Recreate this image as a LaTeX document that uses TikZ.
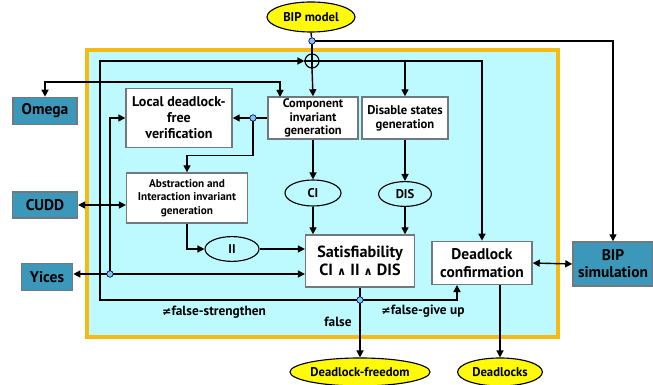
\documentclass[tikz,border=0pt]{standalone}
\usepackage{fontspec}
\setmainfont{PT Sans}
\newfontfamily\glyphfont{DejaVu Sans}
\usetikzlibrary{shapes.geometric, arrows.meta, positioning, calc}

\definecolor{bgcyan}{RGB}{188,250,255}
\definecolor{frameorange}{RGB}{246,186,20}
\definecolor{toolblue}{RGB}{60,152,186}
\definecolor{ioyellow}{RGB}{255,250,10}
\definecolor{boxgray}{RGB}{112,122,126}
\definecolor{dotblue}{RGB}{130,200,225}

\newcommand{\andsym}{{\glyphfont\bfseries\footnotesize ∧}}
\newcommand{\nesym}{{\glyphfont\bfseries\footnotesize ≠}}

\begin{document}
\begin{tikzpicture}[
    x=0.025cm, y=-0.025cm,
    every node/.style={font=\bfseries},
    procbox/.style={rectangle, draw=boxgray, fill=white, line width=1pt, align=center, inner sep=1pt},
    toolbox/.style={rectangle, draw=boxgray, fill=toolblue, line width=1pt, align=center, inner sep=1pt, font=\bfseries\fontsize{11}{12}\selectfont},
    ioell/.style={ellipse, draw, fill=ioyellow, line width=0.8pt, inner sep=0pt, font=\bfseries\fontsize{9}{10}\selectfont},
    invell/.style={ellipse, draw, line width=0.8pt, inner sep=0pt, font=\bfseries\fontsize{9}{10}\selectfont},
    junction/.style={circle, draw=blue!50!black, fill=dotblue, inner sep=0pt, minimum size=4.5pt, line width=0.4pt},
    arrow/.style={-{Triangle[length=5pt, width=5pt]}, line width=1pt},
    dblarrow/.style={{Triangle[length=5pt, width=5pt]}-{Triangle[length=5pt, width=5pt]}, line width=1pt},
    line/.style={line width=1pt},
    lbl/.style={font=\bfseries\fontsize{9.5}{10}\selectfont},
]
\useasboundingbox (0,0) rectangle (653,385);

% tool frame
\draw[line width=2.5pt, draw=frameorange, fill=bgcyan] (87,50) rectangle (558,337);

% inputs and outputs
\node[ioell, minimum width=2.2cm, minimum height=0.75cm] (bipmodel) at (311,17) {BIP model};
\node[ioell, minimum width=3.38cm, minimum height=0.7cm] (freedom) at (360,372) {Deadlock-freedom};
\node[ioell, minimum width=2.12cm, minimum height=0.7cm] (deadlocks) at (500,372) {Deadlocks};

% external tools
\node[toolbox, minimum width=1.6cm, minimum height=0.68cm] (omega) at (45,111) {Omega};
\node[toolbox, minimum width=1.62cm, minimum height=0.65cm] (cudd) at (45,205) {CUDD};
\node[toolbox, minimum width=1.28cm, minimum height=0.68cm] (yices) at (47,277) {Yices};
\node[toolbox, minimum width=2.0cm, minimum height=1.1cm] (bipsim) at (613,264) {BIP\\simulation};

% processing steps
\node[procbox, minimum width=2.65cm, minimum height=1.48cm, font=\bfseries\fontsize{10}{11.5}\selectfont] (local) at (179,118) {Local deadlock-\\free\\verification};
\node[procbox, minimum width=2.25cm, minimum height=1.05cm, font=\bfseries\fontsize{8.8}{9.5}\selectfont] (comp) at (313,118) {Component\\invariant\\generation};
\node[procbox, minimum width=2.15cm, minimum height=1.05cm, font=\bfseries\fontsize{9}{10}\selectfont] (disable) at (405,118) {Disable states\\generation};
\node[procbox, minimum width=3.02cm, minimum height=1.25cm, font=\bfseries\fontsize{8}{9.5}\selectfont] (abstr) at (187,198) {Abstraction and\\Interaction invariant\\generation};
\node[procbox, minimum width=2.72cm, minimum height=1.3cm, font=\bfseries\fontsize{11.5}{13}\selectfont] (sat) at (360,261) {Satisfiability\\CI \andsym{} II \andsym{} DIS};
\node[procbox, minimum width=2.5cm, minimum height=1.08cm, font=\bfseries\fontsize{11}{12.5}\selectfont] (confirm) at (482,263) {Deadlock\\confirmation};

% invariants
\node[invell, minimum width=1.4cm, minimum height=0.65cm] (ci) at (313,193) {CI};
\node[invell, minimum width=1.32cm, minimum height=0.62cm] (dis) at (405,194) {DIS};
\node[invell, minimum width=1.35cm, minimum height=0.62cm] (ii) at (232,249) {II};

% junctions
\node[circle, draw, line width=0.8pt, inner sep=0pt, minimum size=0.35cm] (oplus) at (312,61) {};
\draw[line width=0.8pt] (oplus.north) -- (oplus.south) (oplus.west) -- (oplus.east);
\node[junction] (topdot) at (312,41) {};
\node[junction] (ldot) at (253,118) {};
\node[junction] (ydot) at (110,274) {};
\node[junction] (sdot) at (sat.south |- 0,300) {};
\coordinate (loopL) at (100,300);
\coordinate (compin) at (280,97);
\coordinate (giveup) at (457,285);

% model input
\draw[line] (bipmodel.south) -- (topdot);
\draw[line] (topdot) -- (oplus.north);
\draw[arrow] (topdot) -| (bipsim.north);
\draw[arrow] (oplus.south) -- (comp.north);
\draw[arrow] (oplus.east) -| (confirm.north);
\draw[arrow] (disable.north |- oplus) -- (disable.north);

% tools
\draw[dblarrow] (omega.north) |- ($(compin)+(0,-15)$) -- (compin);
\draw[dblarrow] (cudd.east) -- (cudd.east -| abstr.west);
\draw[dblarrow] (yices.east |- ydot) -- (ydot -| sat.west);
\draw[dblarrow] (confirm.east) -- (bipsim.west);

% invariant generation
\draw[arrow] (comp.west) -- (local.east);
\draw[arrow] (ldot) |- ($(abstr.north)+(0,-17)$) -- (abstr.north);
\draw[arrow] (ydot) |- (local.west);
\draw[arrow] (abstr.south) |- (ii.west);
\draw[arrow] (ii.east) -- (ii.east -| sat.west);
\draw[arrow] (comp.south) -- (ci.north);
\draw[arrow] (ci.south) -- (ci.south |- sat.north);
\draw[arrow] (disable.south) -- (dis.north);
\draw[arrow] (dis.south) -- (dis.south |- sat.north);

% results
\draw[arrow] (sat.south) -- (freedom.north);
\draw[arrow] (sdot) -- (loopL) |- (oplus.west);
\draw[arrow] (sdot) -| (giveup);
\draw[arrow] (deadlocks.north |- confirm.south) -- (deadlocks.north);

% re-draw junction dots on top
\node[junction] at (topdot) {};
\node[junction] at (ldot) {};
\node[junction] at (ydot) {};
\node[junction] at (sdot) {};

\node[lbl] (strengthen) at (214,312) {\nesym false-strengthen};
\node[lbl] (falselbl) at (338,322) {false};
\node[lbl] (giveuplbl) at (423,311) {\nesym false-give up};
\end{tikzpicture}
\end{document}
